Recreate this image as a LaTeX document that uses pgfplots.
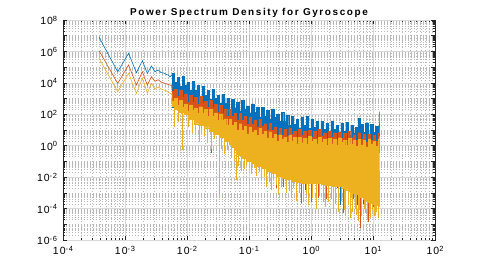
\documentclass[border=0pt]{standalone}
\usepackage{fontspec}
\setmainfont{Liberation Sans}
\newfontfamily\titlefont[LetterSpace=16]{Liberation Sans}
\newfontfamily\tickfont[LetterSpace=10]{Liberation Sans}
\usepackage{pgfplots}
\pgfplotsset{compat=1.18}
\definecolor{mblue}{rgb}{0,0.447,0.741}
\definecolor{mred}{rgb}{0.85,0.325,0.098}
\definecolor{myel}{rgb}{0.929,0.694,0.125}
\newcommand{\tl}[1]{10\raisebox{3.6bp}{\fontsize{7.5}{8}\selectfont #1}}
\begin{document}
\begin{tikzpicture}
\begin{axis}[
  xmode=log, ymode=log,
  scale only axis, width=372bp, height=220bp,
  xmin=1e-4, xmax=1e2, ymin=1e-6, ymax=1e8,
  xtick={1e-4,1e-3,0.01,0.1,1,10,100},
  xticklabels={\tl{-4},\tl{-3},\tl{-2},\tl{-1},\tl{0},\tl{1},\tl{2}},
  ytick={1e-6,1e-5,1e-4,1e-3,1e-2,1e-1,1,10,100,1e3,1e4,1e5,1e6,1e7,1e8},
  yticklabels={\tl{-6},,\tl{-4},,\tl{-2},,\tl{0},,\tl{2},,\tl{4},,\tl{6},,\tl{8}},
  minor xtick={2e-4,3e-4,4e-4,5e-4,6e-4,7e-4,8e-4,9e-4,2e-3,3e-3,4e-3,5e-3,6e-3,7e-3,8e-3,9e-3,0.02,0.03,0.04,0.05,0.06,0.07,0.08,0.09,0.2,0.3,0.4,0.5,0.6,0.7,0.8,0.9,2,3,4,5,6,7,8,9,20,30,40,50,60,70,80,90},
  minor ytick={2e-6,3e-6,4e-6,5e-6,6e-6,7e-6,8e-6,9e-6,2e-5,3e-5,4e-5,5e-5,6e-5,7e-5,8e-5,9e-5,2e-4,3e-4,4e-4,5e-4,6e-4,7e-4,8e-4,9e-4,2e-3,3e-3,4e-3,5e-3,6e-3,7e-3,8e-3,9e-3,0.02,0.03,0.04,0.05,0.06,0.07,0.08,0.09,0.2,0.3,0.4,0.5,0.6,0.7,0.8,0.9,2,3,4,5,6,7,8,9,20,30,40,50,60,70,80,90,200,300,400,500,600,700,800,900,2e3,3e3,4e3,5e3,6e3,7e3,8e3,9e3,2e4,3e4,4e4,5e4,6e4,7e4,8e4,9e4,2e5,3e5,4e5,5e5,6e5,7e5,8e5,9e5,2e6,3e6,4e6,5e6,6e6,7e6,8e6,9e6,2e7,3e7,4e7,5e7,6e7,7e7,8e7,9e7},
  extra y ticks={1e-6,1e-4,1e-2,1,100,1e4,1e6,1e8},
  extra y tick labels={},
  extra y tick style={grid=major, every major y grid/.style={solid, draw=gray!30, line width=0.5bp}},
  grid=both,
  major grid style={draw=gray!30, line width=0.5bp},
  minor grid style={draw=gray!55, line width=0.5bp, dash pattern=on 1bp off 2bp},
  every major y grid/.style={draw=gray!55, line width=0.5bp, dash pattern=on 1bp off 2bp},
  tick align=inside,
  major tick length=3.7bp, minor tick length=2.5bp,
  tick style={black!85, line width=0.5bp},
  axis line style={black!85, line width=0.6bp},
  xticklabel style={font=\tickfont\fontsize{10.5}{12}\selectfont, inner sep=0pt, yshift=-5.8bp},
  yticklabel style={font=\tickfont\fontsize{10.5}{12}\selectfont, inner sep=0pt, xshift=-5.7bp, yshift=-0.3bp},
  title={Power Spectrum Density for Gyroscope},
  title style={font=\titlefont\bfseries\fontsize{10}{12}\selectfont, at={(0.5,1)}, anchor=base, yshift=-1.5bp, inner sep=0pt},
  no markers,
]
% ---- blue series
\addplot[mblue, line width=0.6bp] coordinates {
(3.815e-4,7.94e6) (7.629e-4,5.13e4) (1.144e-3,7.59e5) (1.526e-3,4.47e4) (1.907e-3,2.57e5) (2.289e-3,4.07e4) (2.670e-3,1.17e5) (3.052e-3,5.13e4) (3.433e-3,6.61e4) (3.815e-3,4.47e4) (4.196e-3,4.27e4) (4.578e-3,3.47e4) (4.959e-3,3.16e4) (5.341e-3,2.45e4) (5.722e-3,3.16e4) (0.005754,3.98e4)
};
\addplot[mblue, fill=mblue, line width=0.3bp, const plot] coordinates {
(0.005754,3.98e4) (0.006310,1.07e4) (0.006918,2.29e4) (0.007586,6.17e3) (0.008318,2.57e4) (0.009120,6.92e3) (0.01,1.05e4) (0.01096,3.55e3) (0.01202,1.20e4) (0.01318,3.24e3) (0.01445,6.92e3) (0.01585,1.51e3) (0.01738,5.75e3) (0.01905,1.55e3) (0.02089,3.31e3) (0.02291,8.91e2) (0.02512,3.80e3) (0.02754,1.02e3) (0.03020,1.55e3) (0.03311,5.37e2) (0.03631,1.82e3) (0.03981,4.90e2) (0.04365,1.05e3) (0.04786,2.24e2) (0.05248,9.12e2) (0.05754,2.57e2) (0.06310,5.89e2) (0.06918,1.70e2) (0.07586,7.59e2) (0.08318,2.19e2) (0.09120,3.47e2) (0.1,1.26e2) (0.1096,4.57e2) (0.1202,1.29e2) (0.1318,2.95e2) (0.1445,6.76e1) (0.1585,2.75e2) (0.1738,7.76e1) (0.1905,1.78e2) (0.2089,5.01e1) (0.2291,2.24e2) (0.2512,6.31e1) (0.2754,1.00e2) (0.3020,3.55e1) (0.3311,1.29e2) (0.3631,3.63e1) (0.3981,8.32e1) (0.4365,1.91e1) (0.4786,7.59e1) (0.5248,2.19e1) (0.5754,4.90e1) (0.6310,1.41e1) (0.6918,6.76e1) (0.7586,2.04e1) (0.8318,7.08e1) (0.9120,1.29e1) (1,4.90e1) (1.096,1.48e1) (1.202,3.47e1) (1.318,8.32) (1.445,3.55e1) (1.585,1.07e1) (1.738,2.57e1) (1.905,7.76) (2.089,3.80e1) (2.291,1.15e1) (2.512,1.95e1) (2.754,7.41) (3.020,2.82e1) (3.311,8.51) (3.631,3.16e1) (3.981,4.90) (4.365,2.09e1) (4.786,6.46) (5.248,1.55e1) (5.754,5.62e1) (6.310,2.24e1) (6.918,7.24) (7.586,2.88e1) (8.318,5.37) (9.120,2.19e1) (10,7.08) (10.96,1.78e1) (12.02,4.47) (12.5,1.45e2)
(12.5,0.891) (7.586,1.0) (3.311,1.23) (0.9120,1.66) (0.6310,1.78) (0.3020,2.24) (0.1905,5.01) (0.1,11.2) (0.04786,31.6) (0.02291,126) (0.01096,282) (0.005754,1000)
};
\addplot[mblue, line width=0.7bp, unbounded coords=jump] coordinates {
(0.80,1.5) (0.80,1.58e-3) (0.80,nan)
(2.70,1.5) (2.70,2.0e-3) (2.70,nan)
(3.02,1.5) (3.02,1.58e-4) (3.02,nan)
(5.60,1.5) (5.60,1.58e-4) (5.60,nan)
(6.918,1.5) (6.918,2.0e-4)
};
% ---- orange series
\addplot[mred, line width=0.6bp] coordinates {
(3.815e-4,1.12e6) (7.629e-4,9.33e3) (1.144e-3,1.38e5) (1.526e-3,7.24e3) (1.907e-3,5.13e4) (2.289e-3,7.24e3) (2.670e-3,2.45e4) (3.052e-3,1.26e4) (3.433e-3,1.58e4) (3.815e-3,1.12e4) (4.196e-3,1.0e4) (4.578e-3,8.91e3) (4.959e-3,7.94e3) (5.341e-3,7.24e3) (5.722e-3,6.31e3) (0.005754,2.82e3)
};
\addplot[mred, fill=mred, line width=0.3bp, const plot] coordinates {
(0.005754,2.82e3) (0.006310,3.72e3) (0.006918,1.38e3) (0.007586,3.63e3) (0.008318,1.23e3) (0.009120,2.04e3) (0.01,6.03e2) (0.01096,1.58e3) (0.01202,5.75e2) (0.01318,1.15e3) (0.01445,4.17e2) (0.01585,1.35e3) (0.01738,4.79e2) (0.01905,6.92e2) (0.02089,2.75e2) (0.02291,7.94e2) (0.02512,2.69e2) (0.02754,4.47e2) (0.03020,1.35e2) (0.03311,3.55e2) (0.03631,1.20e2) (0.03981,2.24e2) (0.04365,7.59e1) (0.04786,2.24e2) (0.05248,7.76e1) (0.05754,1.10e2) (0.06310,4.27e1) (0.06918,1.20e2) (0.07586,4.17e1) (0.08318,7.24e1) (0.09120,2.29e1) (0.1,6.31e1) (0.1096,2.24e1) (0.1202,4.47e1) (0.1318,1.58e1) (0.1445,5.01e1) (0.1585,1.78e1) (0.1738,2.51e1) (0.1905,1.00e1) (0.2089,2.69e1) (0.2291,9.12) (0.2512,1.55e1) (0.2754,4.68) (0.3020,1.26e1) (0.3311,4.90) (0.3631,1.07e1) (0.3981,4.07) (0.4365,1.41e1) (0.4786,5.50) (0.5248,8.51) (0.5754,3.63) (0.6310,1.12e1) (0.6918,4.37) (0.7586,8.51) (0.8318,2.95) (0.9120,9.12) (1,3.55) (1.096,7.94) (1.202,3.09) (1.318,1.07e1) (1.445,4.17) (1.585,6.46) (1.738,2.82) (1.905,8.71) (2.089,3.47) (2.291,6.76) (2.512,2.34) (2.754,7.24) (3.020,2.82) (3.311,6.17) (3.631,2.40) (3.981,8.32) (4.365,3.24) (4.786,5.01) (5.248,2.19) (5.754,6.76) (6.310,2.63) (6.918,5.13) (7.586,1.78) (8.318,5.50) (9.120,2.14) (10,4.68) (10.96,1.82) (12.02,6.31) (12.5,2.82e1)
(12.5,0.398) (10,0.41) (6,0.44) (3.02,0.50) (1.9,0.54) (1.0,0.59) (0.631,0.631) (0.3981,0.724) (0.302,0.794) (0.2512,1.0) (0.1905,1.58) (0.1,3.16) (0.04786,8.91) (0.0363,15.8) (0.02754,28.2) (0.02291,39.8) (0.01738,70.8) (0.01318,112) (0.01096,158) (0.00912,224) (0.007586,355) (0.00631,447) (0.005754,562)
};
\addplot[mred, line width=0.7bp, unbounded coords=jump] coordinates {
(0.0251,30) (0.0251,0.355) (0.0251,nan)
(0.2754,1) (0.2754,2.0e-3) (0.2754,nan)
(0.3631,1) (0.3631,2.51e-3) (0.3631,nan)
(0.6918,1) (0.6918,2.24e-4) (0.6918,nan)
(1.0,1) (1.0,2.51e-4) (1.0,nan)
(1.318,1) (1.318,5.01e-4) (1.318,nan)
(1.738,1) (1.738,3.98e-4) (1.738,nan)
(3.311,1) (3.311,5.01e-5) (3.311,nan)
(4.786,1) (4.786,3.98e-4) (4.786,nan)
(6.310,1) (6.310,5.62e-6) (6.310,nan)
(8.318,1) (8.318,1.41e-5) (8.318,nan)
(10.0,1) (10.0,1.26e-4)
};
% ---- yellow series
\addplot[myel, line width=0.6bp] coordinates {
(3.815e-4,3.63e5) (7.629e-4,2.75e3) (1.144e-3,4.07e4) (1.526e-3,2.14e3) (1.907e-3,1.95e4) (2.289e-3,2.24e3) (2.670e-3,9.33e3) (3.052e-3,3.98e3) (3.433e-3,5.62e3) (3.815e-3,3.98e3) (4.196e-3,3.55e3) (4.578e-3,3.16e3) (4.959e-3,2.63e3) (5.341e-3,2.14e3) (5.722e-3,2.0e3) (0.005754,7.08e2)
};
\addplot[myel, fill=myel, line width=0.3bp, const plot] coordinates {
(0.005754,7.08e2) (0.006310,1.02e3) (0.006918,3.39e2) (0.007586,7.76e2) (0.008318,2.88e2) (0.009120,4.68e2) (0.01,1.55e2) (0.01096,3.98e2) (0.01202,1.86e2) (0.01318,2.45e2) (0.01445,1.15e2) (0.01585,3.02e2) (0.01738,1.23e2) (0.01905,2.04e2) (0.02089,7.59e1) (0.02291,2.00e2) (0.02512,7.41e1) (0.02754,1.23e2) (0.03020,4.07e1) (0.03311,1.07e2) (0.03631,4.37e1) (0.03981,5.13e1) (0.04365,2.14e1) (0.04786,5.01e1) (0.05248,1.95e1) (0.05754,3.02e1) (0.06310,1.02e1) (0.06918,2.51e1) (0.07586,9.77) (0.08318,1.70e1) (0.09120,5.75) (0.1,1.58e1) (0.1096,7.41) (0.1202,9.77) (0.1318,4.57) (0.1445,1.23e1) (0.1585,5.13) (0.1738,8.51) (0.1905,3.16) (0.2089,7.76) (0.2291,3.02) (0.2512,5.25) (0.2754,1.82) (0.3020,5.01) (0.3311,2.45) (0.3631,3.39) (0.3981,1.62) (0.4365,4.47) (0.4786,1.95) (0.5248,3.39) (0.5754,1.29) (0.6310,3.55) (0.6918,1.55) (0.7586,3.09) (0.8318,1.20) (0.9120,3.80) (1,1.86) (1.096,2.57) (1.202,1.29) (1.318,3.55) (1.445,1.58) (1.585,2.75) (1.738,1.10) (1.905,3.02) (2.089,1.32) (2.291,2.63) (2.512,1.02) (2.754,3.24) (3.020,1.58) (3.311,2.19) (3.631,1.10) (3.981,3.02) (4.365,1.32) (4.786,2.34) (5.248,0.912) (5.754,2.51) (6.310,1.12) (6.918,2.19) (7.586,0.851) (8.318,2.69) (9.120,1.32) (10,1.82) (10.96,0.912) (12.02,2.51) (12.5,3.98)
(12.5,1.41e-4) (12.02,1.58e-4) (10.96,1.91e-4) (10,2.29e-4) (9.120,2.75e-4) (8.318,3.31e-4) (7.586,3.98e-4) (6.918,5.01e-4) (6.310,6.31e-4) (5.754,7.94e-4) (5.248,1.0e-3) (4.786,1.17e-3) (4.365,1.35e-3) (3.981,1.58e-3) (3.631,1.86e-3) (3.311,2.14e-3) (3.020,2.51e-3) (2.512,2.82e-3) (2.089,3.16e-3) (1.738,3.55e-3) (1.445,3.98e-3) (1.0,4.37e-3) (0.6918,4.9e-3) (0.5754,5.62e-3) (0.4786,7.08e-3) (0.3981,8.91e-3) (0.3311,1.2e-2) (0.2754,1.74e-2) (0.2291,2.51e-2) (0.1905,3.63e-2) (0.1585,5.25e-2) (0.1318,7.41e-2) (0.1096,0.105) (0.0912,0.158) (0.07586,0.251) (0.06918,0.355) (0.0631,0.5) (0.05754,0.79) (0.05248,1.26) (0.04786,2.0) (0.03981,3.5) (0.03311,5.6) (0.02754,8.9) (0.02291,14) (0.01905,20) (0.01585,25) (0.01318,50) (0.01096,100) (0.00912,141) (0.007586,200) (0.00631,316) (0.005754,398)
};
\addplot[myel, line width=0.7bp, unbounded coords=jump] coordinates {
(0.00631,501) (0.00631,15.8) (0.00631,nan)
(0.0072,398) (0.0072,31.6) (0.0072,nan)
(0.008318,251) (0.008318,0.537) (0.008318,nan)
(0.0105,158) (0.0105,15.8) (0.0105,nan)
(0.01202,126) (0.01202,6.31) (0.01202,nan)
(0.0135,79) (0.0135,10) (0.0135,nan)
(0.01585,50) (0.01585,1.74) (0.01585,nan)
(0.0170,40) (0.0170,7.94) (0.0170,nan)
(0.01905,40) (0.01905,3.98) (0.01905,nan)
(0.0215,32) (0.0215,1.58) (0.0215,nan)
(0.02512,25) (0.02512,0.631) (0.02512,nan)
(0.028,16) (0.028,2.51) (0.028,nan)
(0.03311,16) (0.03311,7.24e-4) (0.03311,nan)
(0.036,10) (0.036,0.631) (0.036,nan)
(0.03981,10) (0.03981,0.316) (0.03981,nan)
(0.045,5) (0.045,0.5) (0.045,nan)
(0.05248,4) (0.05248,0.158) (0.05248,nan)
(0.058,1.6) (0.058,0.1) (0.058,nan)
(0.0631,1.6) (0.0631,6.31e-3) (0.0631,nan)
(0.068,1) (0.068,0.05) (0.068,nan)
(0.07586,1) (0.07586,2.51e-2) (0.07586,nan)
(0.085,0.316) (0.085,0.0316) (0.085,nan)
(0.0912,0.316) (0.0912,6.31e-2) (0.0912,nan)
(0.1096,0.25) (0.1096,1.58e-2) (0.1096,nan)
(0.12,0.2) (0.12,0.04) (0.12,nan)
(0.1318,0.158) (0.1318,1.26e-2) (0.1318,nan)
(0.145,0.126) (0.145,0.02) (0.145,nan)
(0.1585,0.1) (0.1585,6.31e-3) (0.1585,nan)
(0.175,0.08) (0.175,0.01) (0.175,nan)
(0.1905,0.08) (0.1905,2.51e-3) (0.1905,nan)
(0.21,0.063) (0.21,5.01e-3) (0.21,nan)
(0.2291,0.05) (0.2291,1.58e-3) (0.2291,nan)
(0.25,0.04) (0.25,7.94e-3) (0.25,nan)
(0.28,0.0316) (0.28,3.16e-3) (0.28,nan)
(0.302,0.0316) (0.302,7.94e-4) (0.302,nan)
(0.33,0.0316) (0.33,2.51e-3) (0.33,nan)
(0.3981,0.02) (0.3981,1.0e-3) (0.3981,nan)
(0.44,0.016) (0.44,1.26e-3) (0.44,nan)
(0.4786,0.016) (0.4786,5.01e-4) (0.4786,nan)
(0.52,0.01) (0.52,2.0e-3) (0.52,nan)
(0.5754,0.01) (0.5754,3.16e-4) (0.5754,nan)
(0.66,0.01) (0.66,1.0e-3) (0.66,nan)
(0.7586,0.01) (0.7586,3.16e-4) (0.7586,nan)
(0.83,0.01) (0.83,7.94e-4) (0.83,nan)
(0.912,0.01) (0.912,1.58e-4) (0.912,nan)
(1.05,0.01) (1.05,5.01e-4) (1.05,nan)
(1.202,0.01) (1.202,1.0e-4) (1.202,nan)
(1.38,0.01) (1.38,6.31e-4) (1.38,nan)
(1.585,0.01) (1.585,2.51e-4) (1.585,nan)
(1.70,0.01) (1.70,1.26e-4) (1.70,nan)
(1.905,0.01) (1.905,2.51e-4) (1.905,nan)
(2.10,0.01) (2.10,3.98e-4) (2.10,nan)
(2.291,0.0063) (2.291,5.01e-5) (2.291,nan)
(2.50,0.0063) (2.50,2.0e-4) (2.50,nan)
(2.754,0.0063) (2.754,6.31e-5) (2.754,nan)
(3.10,0.005) (3.10,3.16e-4) (3.10,nan)
(3.40,0.005) (3.40,7.94e-5) (3.40,nan)
(3.631,0.005) (3.631,3.16e-5) (3.631,nan)
(4.00,0.004) (4.00,1.58e-4) (4.00,nan)
(4.365,0.0032) (4.365,2.51e-5) (4.365,nan)
(4.60,0.0032) (4.60,6.31e-5) (4.60,nan)
(5.10,0.0025) (5.10,1.0e-4) (5.10,nan)
(5.40,0.0025) (5.40,3.98e-5) (5.40,nan)
(5.754,0.0025) (5.754,1.58e-5) (5.754,nan)
(6.10,0.002) (6.10,7.94e-5) (6.10,nan)
(6.60,0.0016) (6.60,3.16e-5) (6.60,nan)
(7.20,0.0013) (7.20,1.0e-4) (7.20,nan)
(7.586,0.001) (7.586,5.01e-5) (7.586,nan)
(8.00,0.001) (8.00,2.0e-5) (8.00,nan)
(8.70,0.001) (8.70,5.01e-5) (8.70,nan)
(9.12,0.001) (9.12,2.51e-5) (9.12,nan)
(9.60,0.0008) (9.60,7.94e-5) (9.60,nan)
(10.4,0.0008) (10.4,3.16e-5) (10.4,nan)
(10.96,0.0005) (10.96,3.98e-5) (10.96,nan)
(11.5,0.0005) (11.5,6.31e-5) (11.5,nan)
(12.3,0.0005) (12.3,2.51e-5)
};
\coordinate (SW) at (rel axis cs:0,0);
\coordinate (NE) at (rel axis cs:1,1);
\end{axis}
\pgfresetboundingbox
\path[use as bounding box] ([xshift=-63bp,yshift=-30bp]SW) rectangle ([xshift=45bp,yshift=20bp]NE);
\end{tikzpicture}
\end{document}
